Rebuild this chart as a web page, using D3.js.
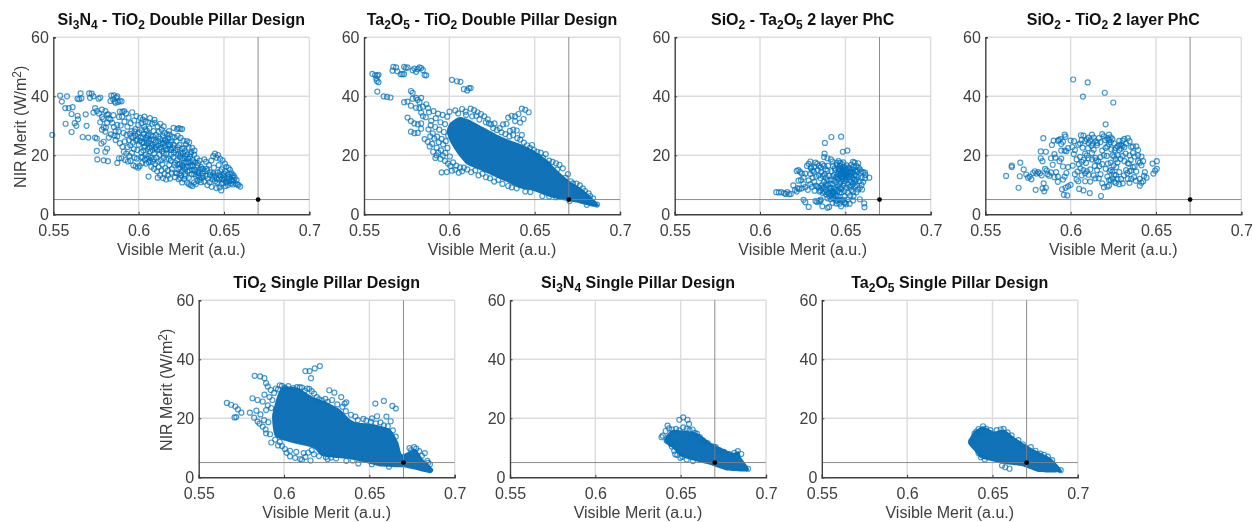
<!DOCTYPE html>
<html><head><meta charset="utf-8">
<script src="https://cdnjs.cloudflare.com/ajax/libs/d3/7.8.5/d3.min.js"></script>
<style>html,body{margin:0;background:#fff}svg{display:block;filter:blur(.4px)}text{font-family:"Liberation Sans",Arial,sans-serif}</style>
</head><body><svg id="c" width="1253" height="522"></svg>
<script>
// Tick labels and axis ranges
const xTicks=[0.55,0.6,0.65,0.7];
const yTicks=[0,20,40,60];
const xDomain=[0.55,0.7];
const yDomain=[0,60];
const targetMerit=[0.67,5];
const xLabel="Visible Merit (a.u.)";

// Titles: odd entries are subscripts
const titleA=["Si","3","N","4"," - TiO","2"," Double Pillar Design"];
const titleB=["Ta","2","O","5"," - TiO","2"," Double Pillar Design"];
const titleC=["SiO","2"," - Ta","2","O","5"," 2 layer PhC"];
const titleD=["SiO","2"," - TiO","2"," 2 layer PhC"];
const titleE=["TiO","2"," Single Pillar Design"];
const titleF=["Si","3","N","4"," Single Pillar Design"];
const titleG=["Ta","2","O","5"," Single Pillar Design"];

// Points: [visible merit, NIR merit]
const pointsA=[[.5494,26.9],[.554,40.2],[.558,40],[.555,38.2],[.557,36],[.559,36],[.5613,36.3],[.5607,34],[.5572,30.7],[.5607,27.9],[.5625,30.9],[.5635,30],[.5642,33.4],[.5645,32.2],[.5642,39.2],[.5652,39],[.566,41],[.5665,39.3],[.5672,26.2],[.569,33.9],[.5695,30],[.5705,26],[.571,41],[.5715,39.5],[.5725,40.9],[.5735,40],[.5745,26],[.5755,25.7],[.5735,34.5],[.5745,36],[.5755,35],[.5765,39.2],[.5775,39.6],[.5785,33],[.5755,21.5],[.5758,18.6],[.5795,18.3],[.5805,21.2],[.582,18],[.5815,22.3],[.5795,24.6],[.5782,24],[.5785,28.7],[.5795,29.5],[.5805,28],[.5815,31],[.5825,26],[.584,40.2],[.585,39],[.586,38.2],[.587,39.5],[.588,38.1],[.589,38.5],[.590,38.3],[.5855,40.3],[.5865,37.8],[.5875,40],[.5835,38.4],[.5805,35],[.5785,35.5],[.5815,33.8],[.5825,32.6],[.5835,32.1],[.5845,31],[.5855,29.6],[.5865,28.2],[.5875,30.3],[.5885,33],[.589,34.8],[.5905,34.7],[.5915,35],[.5875,26.4],[.5865,25.2],[.589,24.1],[.5905,22.9],[.5885,19],[.5875,17.4],[.59,19],[.5768,34.2],[.5775,31.2],[.5792,32.3],[.5808,29.4],[.5822,33.9],[.5838,27.1],[.5852,33.6],[.5858,26.7],[.5883,28.1],[.5895,30.1],
[.5903,33.1],[.5917,31.4],[.5926,34.2],[.5934,29.7],[.5941,32.8],[.5948,27.3],[.5953,30.9],[.5962,34.6],[.5968,26.1],[.5974,31.8],[.598,28.9],[.5987,33.3],[.5992,25.4],[.5998,30.3],[.6004,27.8],[.5911,27.6],[.5919,24.7],[.5929,26.9],[.5936,22.8],[.5944,25.1],[.5951,23.4],[.5959,28.2],[.5966,24.3],[.5972,22.1],[.5979,26.7],[.5986,24.9],[.5993,21.8],[.6001,23.6],[.5913,21.2],[.5921,18.4],[.5928,20.6],[.5937,17.9],[.5945,19.8],[.5953,18.1],[.5961,20.9],[.5969,16.6],[.5976,19.2],[.5983,16.2],[.599,18.9],[.5997,15.8],[.6006,16.4],[.6013,19.3],[.6021,17.4],[.6028,21.6],[.6036,18.5],[.6043,17.2],[.6051,18.9],[.6058,17.7],[.6066,18.2],[.6074,16.1],[.6082,17.9],[.609,15.4],[.6097,17.1],[.6108,14.6],[.6117,16],[.6126,13.2],[.6134,14.9],[.6143,12.3],[.6152,13.7],[.6161,11.8],[.6172,13.2],[.6184,12.1],[.6058,12.8],[.6112,12.4],[.6193,14.1],[.6009,32.7],[.6017,30.9],[.6024,32.1],[.6032,29.6],[.604,31.4],[.6048,28.4],[.6056,31.2],[.6063,29.1],[.6071,26.8],[.6079,30.7],[.6087,28.2],[.6094,31],[.6102,26.9],[.6111,29.8],[.6118,28],[.6126,25.6],[.6135,28.7],[.6142,26.6],[.6151,27.6],[.6158,24.9],[.6166,27.2],[.6173,25.8],[.6181,27],[.6189,24.4],[.6196,26.3],[.6012,26.1],[.602,24.3],[.6029,27.2],[.6037,23.1],[.6044,26],[.6053,22.2],[.606,24.8],[.6068,21.3],[.6076,25.4],[.6083,23.6],[.6091,20.7],[.6099,24.5],[.6106,21.9],[.6114,23.4],[.6122,20.2],[.6129,24.1],[.6138,21.3],[.6146,19.1],[.6154,23],[.6162,20.7],[.6169,22.1],[.6177,18.8],[.6185,23.6],[.6192,20.3],[.6201,22.5],[.6015,21.1],[.6023,19.4],[.6033,22.7],[.6041,20.2],[.6049,24.2],[.6057,19.8],[.6065,22.6],[.6073,19.1],[.6081,21.8],[.6089,18.7],[.6096,22.4],[.6104,19.2],[.6113,17.9],[.6121,22],[.613,18.3],[.6139,16.9],[.6147,20.6],[.6156,15.7],[.6163,18.6],[.6171,14.9],[.6179,16.7],[.6188,18.2],[.6195,15.3],[.6203,19.4],[.621,16.8],[.6218,14],[.6226,18.3],[.6233,15.3],[.6241,17.1],[.6249,13.2],[.6256,19],[.6264,15.8],[.6271,13.7],[.6279,17.6],[.6287,14.6],[.6294,12.4],[.6303,16.3],[.6311,13.6],[.632,17.9],[.6328,15.1],[.6336,12.9],[.6344,16.6],[.6352,14],[.636,11.7],[.6368,15.4],[.6376,13],[.6384,11.1],
[.6205,29.3],[.6225,28.9],[.6235,29.2],[.6245,29],[.6255,28.9],[.6211,26.1],[.6222,24.7],[.6229,26.6],[.6238,23.5],[.6246,25.9],[.6254,22.3],[.6262,25],[.627,21.4],[.6278,23.7],[.6286,20.3],[.6293,22.6],[.6301,19.6],[.6309,21.1],[.6317,18.4],[.6325,20.2],[.6333,17.6],[.6341,19],[.6349,17.3],[.6357,18.2],[.6365,16.1],[.6214,12.6],[.6224,13.9],[.6234,11.9],[.6245,12.3],[.6255,10.8],[.6266,11.9],[.6276,12.9],[.6285,10.7],[.6295,10.2],[.6305,9.9],[.6315,9.6],[.6325,10.8],[.6335,10.2],[.6345,11.3],[.6355,12.5],[.6365,10.9],[.6377,15.4],[.6392,13],[.6399,15.4],[.6406,12.1],[.6412,16.7],[.642,14.2],[.6426,18.2],[.6432,11.8],[.6437,19.7],[.6441,15.8],[.6447,20.6],[.6451,13.2],[.6456,19.2],[.6461,10.8],[.6465,20.1],[.6469,16.7],[.6474,9.1],[.6477,18.8],[.6481,12.7],[.6484,8.1],[.6488,15.2],[.6492,18.3],[.6496,10.6],[.6501,13.8],[.6505,17.2],[.6509,9.6],[.6514,16.1],[.6519,12],[.6523,9.9],[.6527,15.7],[.6532,11.3],[.6537,13.6],[.6542,10.4],[.6548,12.9],[.6553,10.1],[.6557,11.7],[.6563,12.4],[.6568,10.4],[.6574,11.6],[.6579,10.1],[.6585,9.9],[.6595,9.4],[.6403,9.9],[.6416,10.9],[.6428,9.3],[.6438,13.9],[.6448,11.2],[.6455,8.9],[.6463,14.1],[.6471,11.8],[.6478,14.6],[.6486,10.3],[.6493,13.2],[.6499,11.7],[.6507,14.7],[.6512,11],[.6522,13.4],[.6535,15.1],[.6545,13.9],[.6556,13.2],[.6395,17.8],[.6385,18.6],[.6375,13.8],[.6345,14.4],[.6315,15],[.6287,17.8],[.6258,16.4],[.6232,20.3],[.6241,19.4],[.6271,18.9],[.6304,20.4],[.6178,28.2],[.6147,29.8],[.6127,30.7],[.6093,32],[.6066,32.6],[.6034,33.1],[.6156,25.4],[.6141,23.8],[.6118,26.2],[.6087,25.2],[.6076,23],[.6058,27.1],[.6043,25.2],[.6031,24.2],[.6018,28.5],[.6183,22.3],[.6168,24.7],[.6207,20.9],[.6227,21.9],[.6247,20.7],[.6267,22.4],[.6283,24.8],[.6296,24.4],[.6314,22.5],[.6327,21.6],
[.5958,26.2],[.5976,28.1],[.5995,27.3],[.6008,24.9],[.6026,26.1],[.6039,28.8],[.6052,26.6],[.6069,24],[.6084,26.4],[.6101,22.8],[.6116,24.8],[.6132,22.6],[.6149,24.2],[.6161,21.9],[.6175,23.6],[.6191,21.8],[.6204,23.7],[.6216,21.8],[.6231,22.7],[.6244,19.9],[.6259,20.6],[.6273,19.7],[.6289,18.9],[.6302,17.6],[.6318,16.4],[.6332,14.6],[.6347,13.2],[.6358,15.1],[.6372,12.4],[.6387,14.6],[.6402,14.8],[.6418,13.3],[.6433,13.1],[.6443,12.6],[.6458,12],[.6473,13.3],[.6489,12.1],[.6503,12.6],[.6517,10.7],[.6529,12.6],[.6543,11.6],[.6552,11.1],[.6214,17.5],[.6228,16.9],[.6243,15.9],[.6254,16.8],[.6267,17.5],[.6282,15.9],[.6297,14.9],[.6312,16.8],[.6326,13.6],[.6239,13.8],[.6253,14.6],[.6272,15.2]];

// Saturated core outlines, where single markers cannot be told apart
const coreB=[[.6004,31],[.606,33],[.612,32],[.62,29.5],[.628,27],[.636,25],[.643,23.5],[.65,21.5],[.657,18.5],[.664,14.5],[.671,11],[.678,8.5],[.686,4.3],[.6877,2.8],[.6842,2.6],[.6744,4],[.6647,5],[.6569,6.3],[.6491,8],[.6413,8.8],[.6335,11],[.6257,13],[.6159,15.5],[.6101,17],[.6055,20],[.601,24],[.5985,28]];
const pointsB=[[.5549,47.6],[.5565,47.2],[.5578,47],[.5585,47.3],[.5572,46],[.5575,45.2],[.5585,44.8],[.5578,41.6],[.5615,40],[.5635,39.8],[.5655,39.6],[.5667,48.7],[.5672,50],[.5688,49.8],[.5695,48.5],[.5715,47.5],[.5725,47.5],[.5735,50],[.5745,49.6],[.5755,49.8],[.5735,47.5],[.5785,48.8],[.5805,48.3],[.5825,49.8],[.5835,49.6],[.5845,48.9],[.5815,49.2],[.5795,49.4],[.5855,47.2],[.5865,47.1],[.5735,38],[.5755,38.2],[.5785,39.2],[.5805,39.5],[.5775,41.8],[.5785,41.2],[.5815,38.8],[.5835,39.5],[.5825,38],[.5775,36.8],[.5805,36.1],[.5825,36],[.5845,36.5],[.5865,37.3],[.5875,36],[.5835,34.5],[.5845,33.3],[.5755,32.8],[.5775,31.6],[.5795,30.8],[.5815,30.5],[.5835,30.8],[.5775,28],[.5795,27.5],[.5815,27.6],[.5835,29],[.5855,25.5],[.5885,23],[.5905,21.2],[.5925,20],[.5955,14.2],[.5985,14.3],[.6015,14.8],[.6035,15.1],[.6055,14.1],[.6075,14.6],[.6015,45.6],[.6045,45.1],[.6065,44.9],[.6085,42.4],[.6105,42],[.6115,42.8],[.6125,42.8],[.6035,35.2],[.6075,35.7],[.6095,34.8],[.6125,35.8],[.6145,35.3],[.6165,34.6],[.6185,34],[.6205,33.2],[.6225,32.2],[.6245,30.5],[.6265,30.8],[.6295,29.2],[.6345,32.8],[.6365,33.4],[.6385,33.2],[.6405,34],[.6425,35.8],[.6445,35.4],[.6465,34.6],[.6385,31.6],[.6415,31.1],[.6435,32.3],[.6315,30.5],[.6335,30.7],[.6355,28.3],[.6375,28.7],[.6395,28.4],[.6425,26.9],[.6455,23.4],[.6485,23.5],[.6515,21.2],[.6535,20.9],[.6565,20.4],[.6585,18.2],[.6605,17.8],[.6625,17.3],[.6645,16.8],[.6665,15.6],[.6695,13.6],[.6725,10.5],[.6745,10.4],[.6765,9.8],[.6795,7.9],[.6825,6.2],[.6345,9.6],[.6365,9.1],[.6395,8.8],[.6445,7.7],[.6475,7.6],[.6545,6.2],[.6585,6],[.6625,5.8],[.6705,4.5],[.6805,3.2],[.6865,3.3],
[.5862,32.9],[.5881,34.6],[.5894,31.7],[.5907,35],[.5921,32.6],[.5934,34.1],[.5948,31.2],[.5961,33.7],[.5975,30.6],[.5988,33.1],[.6001,34.8],[.5878,28.8],[.5891,30.2],[.5903,27.4],[.5917,29.6],[.5929,26.3],[.5941,28.7],[.5955,25.6],[.5968,27.9],[.5979,24.8],[.5993,26.6],[.5873,24.6],[.5888,26.4],[.5899,23.9],[.5912,25.7],[.5926,22.6],[.5938,24.4],[.5951,21.7],[.5964,23.7],[.5977,20.8],[.5989,22.5],[.6003,19.6],[.5918,19.1],[.5935,20.9],[.5948,18.8],[.5962,19.9],[.5975,18.1],[.5992,17.2],[.6006,16.4],[.6022,17.6],[.6041,16.5],[.6063,15.9],[.6085,15.8],[.6105,15.2],[.6128,14.3],[.6152,14.9],[.6171,13.2],[.6194,13.8],[.6215,12.6],[.6238,12.2],[.6263,11.1],[.6287,11.7],[.6311,10.3],[.6052,34.2],[.6098,33.7],[.6134,33.2],[.6158,33.4],[.6176,32.1],[.6214,31.2],[.6232,30.8],[.6257,29.2],[.6278,28.6],[.6306,27.8],[.6328,27.2],[.6352,26.4],[.6374,26.8],[.6398,25.8],[.6415,25.3],[.6437,24.3],[.6472,22.5],[.6496,21.8],[.6522,19.6],[.6548,19.1],[.6576,17.2],[.6632,15.2],[.6682,12.4],[.6712,11.2],[.6782,8.8],[.6816,7.1],[.6842,5.4]];

const pointsC=[[.6095,7.5],[.611,7.4],[.6125,7.5],[.614,7.2],[.615,6.9],[.616,7.5],[.617,6.8],[.618,6.9],[.6195,9.8],[.6205,8.3],[.6215,7.7],[.622,8.9],[.6225,11.4],[.6215,14.7],[.6225,15],[.6235,14.4],[.6245,13.8],[.6255,12.5],[.6265,13.8],[.624,11.6],[.6255,10.2],[.6265,9.2],[.623,8.6],[.6245,8.8],[.6255,4.9],[.6265,4.1],[.6285,2.5],[.628,8.3],[.6275,16.4],[.6285,17.1],[.6295,17.9],[.63,15.9],[.6305,14.8],[.6315,14.5],[.6295,13.7],[.6285,11.5],[.6295,10.2],[.6305,9.3],[.632,8],[.6325,17.5],[.6335,17.1],[.6345,16.4],[.6355,15.9],[.6365,17],[.6375,16.4],[.6385,15.2],[.6395,14.7],[.6345,13.2],[.6355,12.2],[.6345,9],[.6355,8.1],[.6365,8.8],[.6375,9.3],[.6385,8.2],[.6395,7.4],[.6325,4.5],[.6335,4.2],[.6345,4.4],[.6355,4.6],[.6365,2.7],[.6395,2.2],[.6405,2.5],[.6375,19.4],[.6378,20.6],[.638,24.2],[.6418,26.2],[.6475,26.3],[.6415,18.6],[.6395,19],[.6425,17.9],[.644,15],[.645,16.7],[.646,18],[.647,17.4],[.648,17],[.6485,21.2],[.6512,21.6],[.6495,16],[.6505,15.4],[.6515,14.6],[.6525,15.6],[.6535,16.8],[.6545,17.8],[.6555,17.5],[.6565,16.4],[.6575,17.3],[.6585,15.2],[.6595,14.5],[.6605,14.2],[.6615,14.1],[.664,12.4],[.6615,12.2],[.6605,11],[.6595,10],[.6585,9],[.6575,8.4],[.6565,7.5],[.6585,5.1],[.661,3.7],[.6612,2.4],[.6545,4.7],[.6525,3.6],[.6505,3.4],[.6495,4.1],[.6475,2.7],[.6445,4.6],[.6465,4.9],[.6425,3.9],[.6415,5.1],[.6405,6.2],[.6425,6.9],[.6435,7.4],[.6445,8.3],[.6455,9.5],[.6465,10.2],[.6475,11],[.6485,12],[.6495,12.7],[.6505,13.2],[.6515,12.5],[.6525,11.8],[.6535,11],[.6545,10.3],[.6555,9.6],[.6565,11.8],[.6555,13.2],[.6545,14.1],[.6535,13.1],[.6525,13.8],[.6505,11.8],[.6495,10.5],[.6485,9.8],[.6475,8.6],[.6465,7.4],[.6455,6.2],[.6435,5.6],[.6445,6.3],[.6415,9],[.6425,10.3],[.6435,11.4],[.6445,12.6],[.6455,13.7],[.6465,14.6],[.6475,15.5],[.6485,16],[.6495,15],[.6505,14.2],[.6465,13.2],[.6475,12.6],[.6485,13.7],[.6495,14],[.6475,14.1],[.6485,14.8],[.6455,11.8],[.6465,12.1],[.6445,10.8],[.6435,13.4],[.6425,12.9],[.6415,11.8],[.6405,13],[.6395,11.6],[.6385,12.4],[.6375,11.1],[.6365,10.1],[.6355,5],[.6395,5.4],[.6405,7.2],[.6415,7.9],[.6425,8],[.6435,8.8],[.6455,4.7],[.6465,3.6],[.6485,5],[.6495,6.1],[.6515,7.3],[.6535,8.2],[.6545,7.6],[.6575,12.6],[.6595,12.3],[.6555,10.8],[.6515,10],[.6525,9.3],[.6535,9.7],[.6505,9],[.6495,7.9],
[.6448,17.4],[.6458,15.3],[.6468,16.4],[.6478,15.1],[.6488,17.6],[.6498,13.4],[.6508,16.6],[.6518,15.9],[.6528,14.4],[.6538,15.2],[.6548,16.1],[.6558,15],[.6568,14.4],[.6578,15.8],[.6453,12.7],[.6463,15.5],[.6473,13.7],[.6483,12.9],[.6493,11.3],[.6503,12.6],[.6513,13.6],[.6523,12.7],[.6533,14.3],[.6543,12.2],[.6553,11.7],[.6563,13.1],[.6573,14.9],[.6583,11.2],[.6458,8.1],[.6468,9],[.6478,7.4],[.6438,6.4],[.6428,7.6],[.6418,6.5],[.6408,8.6],[.6398,9.8],[.6388,6.7],[.6378,7.6],[.6368,7.2],[.6358,9.6],[.6348,7.7],[.6338,9.4],[.6328,9.7],[.6318,11],[.6308,12.4],[.6298,15.6],[.6318,16.2],[.6338,15],[.6358,14.3],[.6378,13.6],[.6398,16.5],[.6418,14.6],[.6428,16.3],[.6438,15.6],[.6328,12.8],[.6368,13],[.6388,10.2],[.6408,10.4],[.6428,5.6],[.6448,3.7],[.6478,4.6],[.6498,3.8],[.6515,5],[.6528,6.3],[.6548,6.2],[.6568,9.8],[.6598,8.4],[.6618,13.3]];

const pointsD=[[.5622,13],[.5655,16.5],[.5655,16],[.5695,9],[.5702,12.9],[.5705,17.5],[.5725,15.2],[.574,13.5],[.575,12.4],[.576,12.8],[.577,11.9],[.578,14],[.579,14.6],[.5795,8.3],[.58,13.8],[.581,14.3],[.582,13.9],[.583,13.2],[.5825,19],[.5835,18],[.5825,21.3],[.584,25.8],[.5835,8.8],[.5842,10.5],[.5845,7.8],[.5855,9],[.585,15.4],[.586,14.9],[.5855,21.2],[.5865,13.6],[.5875,13.1],[.5885,19],[.589,23.5],[.59,25],[.5905,20.4],[.591,19.2],[.5915,14.3],[.5925,12.8],[.5925,11],[.593,25.2],[.594,25.5],[.5945,23.8],[.5945,21.6],[.5935,18],[.595,8.5],[.596,6.6],[.597,9],[.598,6.4],[.5965,27],[.597,26.3],[.5975,21.4],[.5985,16],[.5975,14],[.5965,12.8],[.5955,11.8],[.5985,9.5],[.6,10],[.6,25],[.601,22.8],[.6015,45.7],[.602,24.8],[.6025,21.8],[.6035,18.6],[.604,14.5],[.6025,13.6],[.6035,11.8],[.605,8.6],[.6075,8.1],[.606,26.8],[.6055,24],[.607,22.6],[.6072,39.9],[.6085,20.6],[.6095,20],[.609,17.4],[.6075,15],[.6065,13.2],[.6085,11.2],[.61,44.7],[.6105,26],[.6115,25],[.6112,7.2],[.6125,27],[.613,24],[.6135,21.9],[.6125,18.6],[.6115,15.2],[.6105,13.4],[.6115,11.1],[.6135,13.2],[.6145,12.2],[.6155,15],[.615,18.3],[.6155,23.5],[.6165,25.8],[.6175,24.5],[.6185,27.2],[.6178,6.2],[.6185,10.5],[.6195,9.2],[.6205,30.5],[.62,41.2],[.6195,26.4],[.6205,22.5],[.6195,20],[.6185,17],[.6205,15.4],[.6215,12.8],[.6215,9.4],[.6225,27],[.6235,26.1],[.6245,25.5],[.6225,23.8],[.6235,24.5],[.625,37.9],[.6245,20],[.6235,17.5],[.6245,14.5],[.6235,11.6],[.6255,11],[.6265,10.6],[.6255,24],[.6265,22.5],[.6275,23],[.6285,24.9],[.6295,23.6],[.6305,25],[.6315,25.6],[.6275,17.6],[.6285,14.3],[.6295,12],[.6305,10.5],[.6285,10.2],[.6305,19.8],[.6315,22.8],[.6325,24],[.6315,18],[.6325,15],[.6335,12],[.6345,10.7],[.6355,12],[.6345,20],[.6365,20.8],[.6385,23],[.6375,19.6],[.6395,20],[.6385,14.5],[.6375,16.2],[.6395,18],[.6405,12],[.6405,9.7],[.6415,10.7],[.6425,11.2],[.643,13],[.6425,18],[.6435,14.3],[.648,17.2],[.6485,13.8],[.6495,14.8],[.6505,15.4],[.6505,18],[.6215,25.8],[.6225,25.2],[.6215,23],[.6135,26],[.6145,24.8],[.6155,24.2],[.6105,24.2],[.6095,25.4],[.6085,24.8],[.6075,26.7],[.6065,25.2],[.5985,22.4],[.5965,21.6],[.5955,24.6],[.5945,18.9],[.5925,24.9],[.6055,19.5],[.6065,17.8],[.6075,18.4],[.6085,13.9],[.6095,14.6],[.6045,11.2],[.6165,12.2],[.6175,13.6],[.6175,19.4],[.6185,21.6],[.6145,19.1],[.6125,20.8],[.6105,19],[.6255,19.6],[.6265,18.7],[.6275,20],[.6285,21.8],[.6265,13.2],[.6275,12],[.6255,13.4],[.6245,12.2],[.6225,11.6],[.6225,9.8],[.6235,15],[.6345,24.8],[.6335,25.8],[.6305,23.2],[.6295,22.3],[.6285,23.4],[.6355,22.8],[.6365,23],[.6335,17.3],[.6345,14.6],[.6355,14.8],[.6365,16],[.6415,19.6],[.6405,17.5],[.6395,21.8],[.6415,16.6],[.6445,12.4],[.5885,14.2],[.5895,16.8],[.5905,12.6],[.5955,16.2],[.6012,16.5],[.6018,20.4],[.6045,23.6],[.6048,17],[.6058,15.6],[.6102,22.4],[.6122,23.2],[.6142,16.4],[.6162,18],[.6168,16.3],[.6202,25.2],[.6212,19.8],[.6218,17.2],[.6228,14.6],[.6238,22],[.6252,16.6],[.6258,21.8],[.6268,16],[.6292,18.8],[.6312,13.2],[.6322,20.6],[.6332,14],[.6342,17.2],[.6352,18.4],[.6372,12.6],[.6382,11.4]];

const coreE=[[.5994,30.8],[.6076,30.4],[.6163,27.5],[.6252,25.4],[.6328,23],[.6387,19.7],[.6428,18.6],[.6522,18],[.6622,16.3],[.6669,11.9],[.6692,7.8],[.6768,9.6],[.6815,6.1],[.6874,2.7],[.6856,1.4],[.6757,2.7],[.6697,3.4],[.6562,3.7],[.6445,5.4],[.6387,6.1],[.6228,7.1],[.617,10],[.6035,11.9],[.5947,13.9],[.593,20.7],[.596,27.5]];
const pointsE=[[.5665,25.2],[.569,24.6],[.5715,24],[.573,23],[.575,21.9],[.571,20.3],[.572,20.4],[.58,21.9],[.5825,20.2],[.5845,18.9],[.5875,17.2],[.5895,14.9],[.5815,26.8],[.5845,26.2],[.5875,25.7],[.5828,34.4],[.586,34.2],[.5885,33.6],[.5895,31.9],[.5905,30.8],[.5885,28],[.6125,36],[.615,36],[.618,36.9],[.621,37.7],[.6158,33.6],[.6265,29.5],[.6295,28.7],[.6335,27.2],[.6355,25],[.6365,25.4],[.6535,25],[.6585,25.9],[.6635,24.2],[.6655,23.3],[.6545,20.7],[.66,20.6],[.6625,19],[.6585,17.6],[.6515,20],[.6745,9.2],[.6775,9.7],[.6825,8.2],[.6855,4.4],[.684,5.6],[.6035,7.1],[.6095,6.2],[.6105,5.9],[.6155,5.7],[.6205,7.2],[.6255,6.2],[.6365,5.6],[.6435,4.7],[.6515,4.4],[.6615,3.6],[.5925,11.8],[.5965,10.8],[.6015,8.3],[.6005,9.6],[.6065,6.6],[.6125,6.9],[.6175,7.8],[.6075,30.6],[.6105,30.4],[.6135,30.1],[.5915,27.2],[.5965,29.8],
[.5862,21.3],[.5838,22.6],[.5856,18.2],[.5883,19.4],[.5895,22.8],[.5905,24.4],[.5892,16.2],[.5908,18.7],[.5918,14.6],[.5925,23.5],[.5932,26.2],[.5922,29.6],[.5942,28.6],[.5952,30.1],[.5975,31.2],[.5988,31],[.5988,10.6],[.5948,12.8],[.5975,12],[.6005,30.4],[.6025,30.9],[.6055,30.2],[.6092,30.6],[.6122,29.4],[.6148,30],[.6162,29.2],[.6176,28.4],[.6192,27.2],[.6205,26.5],[.6222,26.1],[.6242,26.6],[.6255,25.6],[.6282,26.2],[.6312,24.7],[.6342,23.9],[.6362,22.4],[.6392,21.2],[.6418,20.6],[.6432,19.4],[.6465,19.8],[.6482,19.2],[.6508,18.8],[.6538,18.3],[.6565,18.6],[.6608,17.3],[.6638,15.9],[.6655,13.8],[.6035,9],[.6072,8.6],[.6115,8.2],[.6142,8.4],[.6162,9.2],[.6245,6.9],[.6275,6.7],[.6305,6.4],[.6402,5.7],[.6735,9.9],[.6762,10.2],[.6792,8.9],[.6808,7.3],[.6845,4.9]];

const coreF=[[.6405,12.8],[.645,16],[.659,15.2],[.668,11.6],[.68,8.4],[.684,8.8],[.6855,6.6],[.6898,3.2],[.689,2],[.6772,2.3],[.668,4.1],[.659,5.4],[.6499,7.1],[.6453,9.9],[.6415,11.4]];
const pointsF=[[.6492,19.5],[.6515,20.3],[.654,19.5],[.6549,18.1],[.6423,17.5],[.6395,14.1],[.645,16.2],[.6515,16.9],[.657,16.2],[.6595,14.8],[.648,7.6],[.651,7],[.664,11.8],[.6705,10.2],[.6835,8.9],[.6815,8.3],[.6855,7.9],[.6895,2.9],[.6388,13.6],[.6412,15.7],[.6418,12.4],[.6432,16.6],[.6428,13.6],[.6442,11.4],[.6448,10.4],[.6462,9],[.6472,16.4],[.6492,15.9],[.6535,16.4],[.6552,16],[.6582,15.1],[.6612,13.6],[.6632,12.4],[.6658,11.6],[.6692,10.4],[.6725,9.2],[.6752,8.6],[.6785,7.9],[.6825,7],[.6468,7.8],[.6498,6.6],[.6535,6],[.6572,5.5]];

const coreG=[[.6357,11.6],[.6385,15],[.6442,17.3],[.651,15.5],[.6567,16.2],[.6635,13.3],[.6727,9.9],[.6841,6.5],[.6904,2.6],[.6897,1.7],[.6772,1.8],[.6681,3.7],[.659,4.3],[.6499,5.4],[.643,6.5],[.6396,8.8]];
const pointsG=[[.6556,4],[.66,2.9],[.6575,3.4],[.6455,6],[.6445,17.3],[.6525,16],[.6565,16.4],[.6375,12.2],[.6395,14.8],[.6695,10],[.678,8],[.685,5.8],[.69,2.4],[.6432,6.8],[.6418,8.2],[.6405,15.4],[.6418,16.3],[.6462,16.5],[.6488,16],[.6548,16.2],[.6588,15.2],[.6612,14.2],[.6652,12.6],[.6678,11.2],[.6725,10.2],[.6752,9],[.6802,7.6],[.6825,7]];

const panels=[
 {title:titleA,points:pointsA,core:null,  x0:53.3, y0:37.3,yLab:true},
 {title:titleB,points:pointsB,core:coreB, x0:364,  y0:37.3,yLab:false},
 {title:titleC,points:pointsC,core:null,  x0:674.7,y0:37.3,yLab:false},
 {title:titleD,points:pointsD,core:null,  x0:985.3,y0:37.3,yLab:false},
 {title:titleE,points:pointsE,core:coreE, x0:198.7,y0:300.3,yLab:true},
 {title:titleF,points:pointsF,core:coreF, x0:510,  y0:300.3,yLab:false},
 {title:titleG,points:pointsG,core:coreG, x0:821.8,y0:300.3,yLab:false}
];
const W=256,H=177,blue="#0072BD",ink="#404040",fs=16;
const svg=d3.select("#c");
panels.forEach(p=>{
  const g=svg.append("g").attr("transform",`translate(${p.x0},${p.y0})`);
  const x=d3.scaleLinear().domain(xDomain).range([0,W]);
  const y=d3.scaleLinear().domain(yDomain).range([H,0]);
  g.append("g").selectAll("line").data(xTicks.slice(1)).join("line")
    .attr("x1",d=>x(d)).attr("x2",d=>x(d)).attr("y1",0).attr("y2",H)
    .attr("stroke","#dcdcdc").attr("stroke-width",1.4);
  g.append("g").selectAll("line").data(yTicks.slice(1)).join("line")
    .attr("y1",d=>y(d)).attr("y2",d=>y(d)).attr("x1",0).attr("x2",W)
    .attr("stroke","#dcdcdc").attr("stroke-width",1.4);
  if(p.core){
    g.append("path").datum(p.core)
      .attr("d",d3.line().x(d=>x(d[0])).y(d=>y(d[1])).curve(d3.curveCardinalClosed.tension(.4)))
      .attr("fill","#1272b8");
  }
  g.append("g").selectAll("circle").data(p.points).join("circle")
    .attr("cx",d=>x(d[0])).attr("cy",d=>y(d[1])).attr("r",2.5)
    .attr("fill","none").attr("stroke",blue).attr("stroke-width",1.2).attr("stroke-opacity",.72);
  g.append("line").attr("x1",x(targetMerit[0])).attr("x2",x(targetMerit[0])).attr("y1",0).attr("y2",H)
    .attr("stroke","#808080").attr("stroke-width",.9);
  g.append("line").attr("y1",y(targetMerit[1])).attr("y2",y(targetMerit[1])).attr("x1",0).attr("x2",W)
    .attr("stroke","#808080").attr("stroke-width",.9);
  g.append("circle").attr("cx",x(targetMerit[0])).attr("cy",y(targetMerit[1])).attr("r",2.4).attr("fill","#000");
  const ax=g.append("g").attr("transform",`translate(0,${H})`)
    .call(d3.axisBottom(x).tickValues(xTicks).tickFormat(d=>String(d)).tickSize(-2.5).tickPadding(10.5));
  const ay=g.append("g").call(d3.axisLeft(y).tickValues(yTicks).tickSize(-2.5).tickPadding(4.5));
  [ax,ay].forEach(a=>{
    a.select(".domain").attr("stroke",ink).attr("stroke-width",1.4);
    a.selectAll(".tick line").attr("stroke",ink).attr("stroke-width",1);
    a.selectAll("text").attr("fill",ink).attr("font-size",fs);
  });
  ax.selectAll("text").attr("dy","0.71em");
  const t=g.append("text").attr("x",W/2).attr("y",-12).attr("text-anchor","middle")
    .attr("font-size",fs).attr("font-weight","bold").attr("fill","#111");
  let shifted=false;
  p.title.forEach((s,i)=>{
    const sub=i%2===1;
    const ts=t.append("tspan").text(s).attr("font-size",sub?12:fs);
    if(sub){ts.attr("dy",4);shifted=true;} else if(shifted){ts.attr("dy",-4);shifted=false;}
  });
  g.append("text").attr("x",W/2).attr("y",H+41).attr("text-anchor","middle")
    .attr("font-size",fs).attr("fill",ink).text(xLabel);
  if(p.yLab){
    const l=g.append("text").attr("transform",`translate(-27,${H/2+1}) rotate(-90)`).attr("text-anchor","middle")
      .attr("font-size",fs).attr("fill",ink);
    l.append("tspan").text("NIR Merit (W/m");
    l.append("tspan").text("2").attr("font-size",12).attr("dy",-5);
    l.append("tspan").text(")").attr("dy",5);
  }
});
</script></body></html>
